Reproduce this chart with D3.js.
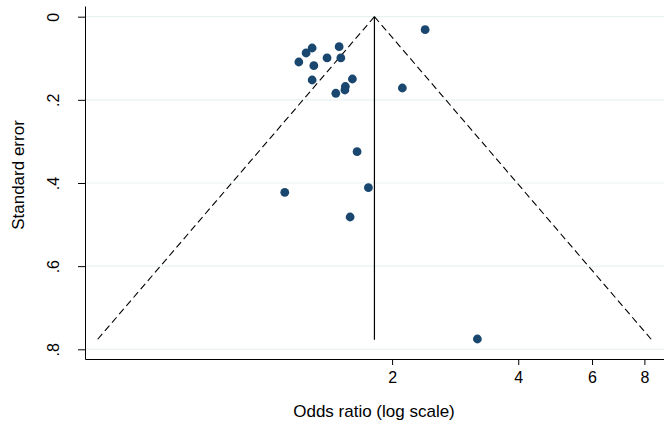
<!DOCTYPE html>
<html>
<head>
<meta charset="utf-8">
<script src="https://cdn.jsdelivr.net/npm/d3@7/dist/d3.min.js"></script>
<style>
  body { margin: 0; background: #fff; }
  svg { display: block; font-family: "Liberation Sans", Arial, sans-serif; }
</style>
</head>
<body>
<div id="chart"></div>
<script>
// study estimates
const oddsRatios = [1.289, 1.247, 1.198, 1.301, 1.399, 1.495, 1.509, 1.289, 1.608,
                    1.547, 1.543, 1.468, 2.398, 2.116, 1.650, 1.109, 1.756, 1.588, 3.196];
const standardErrors = [0.0753, 0.0873, 0.109, 0.1179, 0.0993, 0.0722, 0.0993, 0.1523, 0.1499,
                        0.1679, 0.1763, 0.1842, 0.0313, 0.1715, 0.3247, 0.4224, 0.4113, 0.4818, 0.7752];
const pooledOR = 1.815;
const maxSE = 0.777;
const xTicks = [2, 4, 6, 8];
const yTicks = [0, 0.2, 0.4, 0.6, 0.8];

const width = 664, height = 428;

const svg = d3.select("#chart").append("svg")
    .attr("width", width)
    .attr("height", height);

// log x scale, standard error runs downwards
const x = d3.scaleLog().domain([0.37, 8.91]).range([85, 664]);
const y = d3.scaleLinear().domain([-0.0257, 0.8233]).range([6, 359]);

// horizontal grid lines
svg.append("g")
    .selectAll("line")
    .data(yTicks)
    .enter().append("line")
    .attr("x1", 85)
    .attr("x2", 664)
    .attr("y1", d => y(d))
    .attr("y2", d => y(d))
    .style("stroke", "#eaf2f3")
    .style("stroke-width", 1.2);

// pseudo 95% limits
const lnP = Math.log(pooledOR);
const limits = [
    [[pooledOR, 0], [Math.exp(lnP - 1.96 * maxSE), maxSE]],
    [[pooledOR, 0], [Math.exp(lnP + 1.96 * maxSE), maxSE]]
];
svg.append("g")
    .selectAll("line")
    .data(limits)
    .enter().append("line")
    .attr("x1", d => x(d[0][0]))
    .attr("y1", d => y(d[0][1]))
    .attr("x2", d => x(d[1][0]))
    .attr("y2", d => y(d[1][1]))
    .style("stroke", "#000")
    .style("stroke-width", 1.1)
    .style("stroke-dasharray", "7,4");

// pooled estimate line
svg.append("line")
    .attr("x1", x(pooledOR))
    .attr("x2", x(pooledOR))
    .attr("y1", y(0))
    .attr("y2", y(maxSE))
    .style("stroke", "#000")
    .style("stroke-width", 1.2);

// studies
svg.append("g")
    .selectAll("circle")
    .data(oddsRatios.map((d, i) => ({ or: d, se: standardErrors[i] })))
    .enter().append("circle")
    .attr("cx", d => x(d.or))
    .attr("cy", d => y(d.se))
    .attr("r", 4.4)
    .style("fill", "#1a476f");

// x axis
const xAxis = svg.append("g")
    .attr("transform", "translate(0,359)")
    .call(d3.axisBottom(x).tickValues(xTicks).tickFormat(d3.format("d"))
        .tickSizeInner(6).tickSizeOuter(0).tickPadding(7));

// y axis
const yAxis = svg.append("g")
    .attr("transform", "translate(85,0)")
    .call(d3.axisLeft(y).tickValues(yTicks).tickSizeInner(7).tickSizeOuter(0)
        .tickFormat(d => d === 0 ? "0" : d3.format(".1f")(d).replace(/^0/, "")));

[xAxis, yAxis].forEach(a => {
    a.select(".domain").style("stroke", "#000").style("stroke-width", 1);
    a.selectAll(".tick line").style("stroke", "#000");
    a.selectAll("text").style("font-size", "16px").style("fill", "#000")
        .style("font-family", "'Liberation Sans', Arial, sans-serif");
});

// rotate y tick labels
yAxis.selectAll(".tick text")
    .attr("x", null)
    .attr("dy", null)
    .attr("transform", "translate(-26.5,0) rotate(-90)")
    .attr("text-anchor", "middle");

// axis titles
svg.append("text")
    .attr("transform", "translate(24,175) rotate(-90)")
    .attr("text-anchor", "middle")
    .style("font-size", "17px")
    .text("Standard error");

svg.append("text")
    .attr("x", 374)
    .attr("y", 417)
    .attr("text-anchor", "middle")
    .style("font-size", "17px")
    .text("Odds ratio (log scale)");
</script>
</body>
</html>
